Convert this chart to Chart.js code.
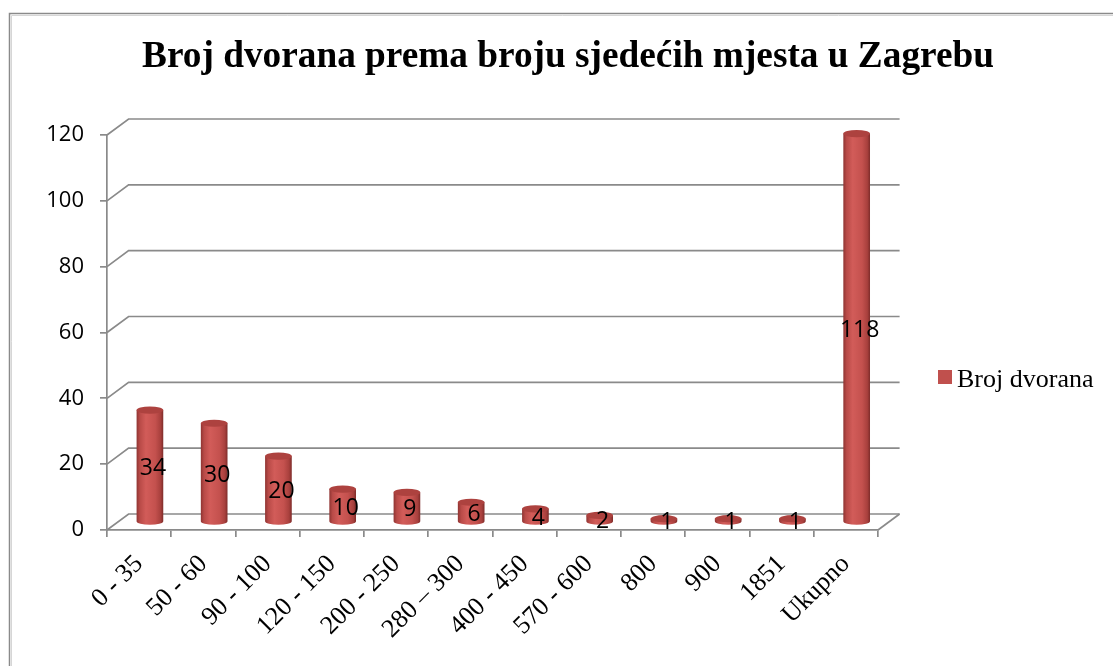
<!DOCTYPE html>
<html>
<head>
<meta charset="utf-8">
<script src="https://cdn.jsdelivr.net/npm/chart.js@4"></script>
<style>
  html, body { margin: 0; padding: 0; background: #fff; }
  #wrap { width: 1113px; height: 666px; position: relative; }
</style>
</head>
<body>
<div id="wrap"><canvas id="chart" width="1113" height="666"></canvas></div>
<script>
const chartTitle = "Broj dvorana prema broju sjedećih mjesta u Zagrebu";
const seriesName = "Broj dvorana";
const categories = ["0 - 35", "50 - 60", "90 - 100", "120 - 150", "200 - 250", "280 – 300",
  "400 - 450", "570 - 600", "800", "900", "1851", "Ukupno"];
const counts = [34, 30, 20, 10, 9, 6, 4, 2, 1, 1, 1, 118];
const yTicks = [0, 20, 40, 60, 80, 100, 120];

const barColor = "#C0504D";
const gridColor = "#8a8a8a";
// depth of the 3d box (back wall offset)
const DX = 21.6, DY = -16;

// draws frame, title, side wall / back wall grid, legend
const decorPlugin = {
  id: "decor",
  beforeDatasetsDraw(chart) {
    const ctx = chart.ctx;
    const area = chart.chartArea;
    const y = chart.scales.y;
    ctx.save();
    ctx.strokeStyle = gridColor;
    ctx.lineWidth = 1.7;
    yTicks.forEach((v) => {
      const py = y.getPixelForValue(v);
      ctx.beginPath();
      ctx.moveTo(area.left, py);
      ctx.lineTo(area.left + DX, py + DY);
      ctx.lineTo(area.right + DX, py + DY);
      ctx.stroke();
    });
    // right edge of floor
    ctx.beginPath();
    ctx.moveTo(area.right, area.bottom);
    ctx.lineTo(area.right + DX, area.bottom + DY);
    ctx.stroke();
    ctx.restore();
  },
  afterDraw(chart) {
    const ctx = chart.ctx;
    ctx.save();
    // outer frame
    ctx.strokeStyle = "#8a8a8a";
    ctx.lineWidth = 1.5;
    ctx.beginPath();
    ctx.moveTo(9.5, 700);
    ctx.lineTo(9.5, 13.5);
    ctx.lineTo(1200, 13.5);
    ctx.stroke();
    ctx.strokeStyle = "#d6d6d6";
    ctx.lineWidth = 1;
    ctx.beginPath();
    ctx.moveTo(11.5, 700);
    ctx.lineTo(11.5, 15.5);
    ctx.lineTo(1200, 15.5);
    ctx.stroke();

    // title
    ctx.fillStyle = "#000";
    ctx.font = "bold 37.3px 'Liberation Serif'";
    ctx.textAlign = "left";
    ctx.textBaseline = "alphabetic";
    ctx.fillText(chartTitle, 142, 67);

    // legend
    ctx.fillStyle = barColor;
    ctx.fillRect(938, 370, 14, 14);
    ctx.fillStyle = "#000";
    ctx.font = "26px 'Liberation Serif'";
    ctx.fillText(seriesName, 957, 387);
    ctx.restore();
  }
};

// cylinders drawn from the bar elements, shifted to the middle depth
const cylinderPlugin = {
  id: "cylinders",
  afterDatasetsDraw(chart) {
    const ctx = chart.ctx;
    const meta = chart.getDatasetMeta(0);
    const ox = DX / 2, oy = DY / 2;
    ctx.save();
    meta.data.forEach((bar, i) => {
      const cx = bar.x + ox;
      const w = bar.width;
      const rx = w / 2, ry = 3.6;
      const top = bar.y + oy;
      const bot = bar.base + oy;
      const left = cx - rx, right = cx + rx;

      const g = ctx.createLinearGradient(left, 0, right, 0);
      g.addColorStop(0, "#8f3432");
      g.addColorStop(0.12, "#b84a47");
      g.addColorStop(0.35, "#d25c59");
      g.addColorStop(0.7, "#c4514e");
      g.addColorStop(0.9, "#a8403d");
      g.addColorStop(1, "#7e2c2a");

      ctx.fillStyle = g;
      ctx.beginPath();
      ctx.moveTo(left, top);
      ctx.lineTo(left, bot);
      ctx.ellipse(cx, bot, rx, ry, 0, Math.PI, 0, true);
      ctx.lineTo(right, top);
      ctx.closePath();
      ctx.fill();

      // top cap
      ctx.fillStyle = "#ad423f";
      ctx.beginPath();
      ctx.ellipse(cx, top, rx, ry, 0, 0, Math.PI * 2);
      ctx.fill();

      // value label
      ctx.fillStyle = "#000";
      ctx.font = "23px 'Open Sans'";
      ctx.textAlign = "center";
      ctx.textBaseline = "middle";
      ctx.fillText(String(counts[i]), cx + 3, (top + bot) / 2 + 3);
    });
    ctx.restore();
  }
};

new Chart(document.getElementById("chart"), {
  type: "bar",
  data: {
    labels: categories,
    datasets: [
      {
        label: seriesName,
        data: counts,
        backgroundColor: "rgba(0,0,0,0)",
        borderWidth: 0,
        categoryPercentage: 1.0,
        barPercentage: 0.415,
      },
    ],
  },
  options: {
    responsive: false,
    animation: false,
    layout: { padding: { left: 0, right: 235, top: 135, bottom: 0 } },
    plugins: {
      legend: { display: false },
      title: { display: false },
      tooltip: { enabled: false },
    },
    scales: {
      x: {
        offset: true,
        grid: {
          offset: true,
          drawOnChartArea: false,
          color: gridColor,
          lineWidth: 1.7,
          tickLength: 7,
        },
        border: { color: gridColor, width: 1.7 },
        ticks: {
          color: "#000",
          font: { family: "'Liberation Serif'", size: 26 },
          minRotation: 45,
          maxRotation: 45,
          autoSkip: false,
          padding: 12,
        },
        afterFit(scale) {
          scale.height = 136;
        },
      },
      y: {
        min: 0,
        max: 120,
        grid: {
          drawOnChartArea: false,
          color: gridColor,
          lineWidth: 1.7,
          tickLength: 7,
        },
        border: { color: gridColor, width: 1.7 },
        ticks: {
          stepSize: 20,
          color: "#000",
          font: { family: "'Open Sans'", size: 22 },
          padding: 16,
        },
        afterFit(scale) {
          scale.width = 107;
        },
      },
    },
  },
  plugins: [decorPlugin, cylinderPlugin],
});
</script>
</body>
</html>
